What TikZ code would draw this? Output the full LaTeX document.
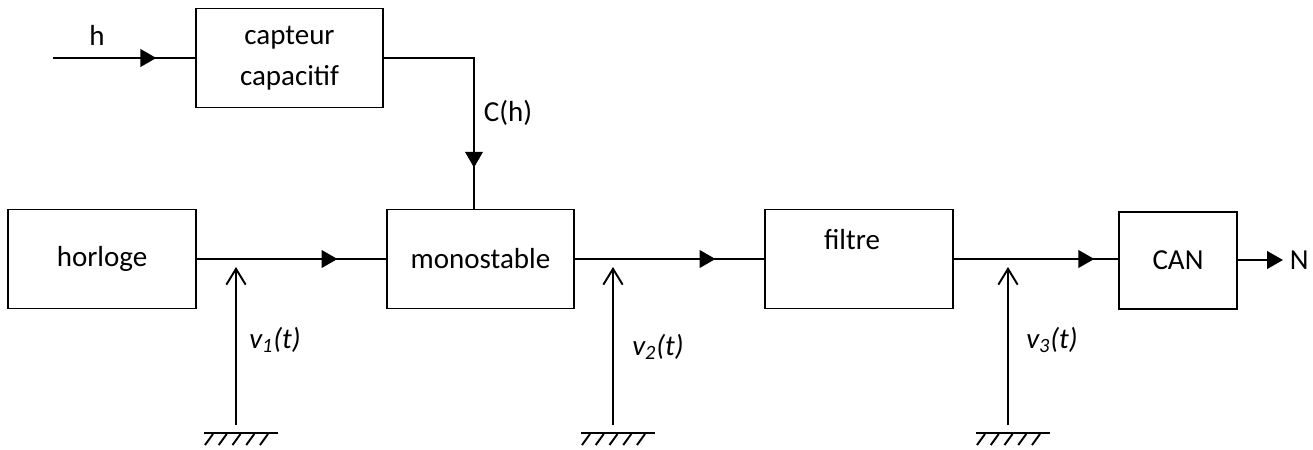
\documentclass[tikz,border=0pt]{standalone}
\usepackage{fontspec}
\setmainfont{Carlito}
\usetikzlibrary{arrows.meta, positioning, calc, decorations.markings}

%% ground symbol at a named coordinate
\newcommand{\masse}[1]{%
  \draw (#1) ++(-32,0) -- ++(74,0);
  \foreach \k in {0,...,4}
    \draw ($(#1)+(-23+13.75*\k,1)$) -- ++(-8,11);
}

\begin{document}
\begin{tikzpicture}[
  x=0.02cm, y=-0.02cm,
  line width=1.1pt,
  font=\fontsize{16.5}{23}\selectfont,
  bloc/.style   ={draw, align=center, inner sep=0pt,
                  minimum width=3.76cm, minimum height=1.98cm},
  flow/.style   ={postaction={decorate}, decoration={markings,
                  mark=at position #1 with {\arrow{Triangle[length=9pt, width=10pt]}}}},
  arr/.style    ={-{Triangle[length=9pt, width=10pt]}},
  varr/.style   ={-{Straight Barb[length=9pt, width=11pt]}},
  voltlbl/.style={font=\fontsize{16.5}{19}\selectfont\itshape},
]
\useasboundingbox (0,0) rectangle (1313,450);

%% ---- Blocks ----
\node[bloc, minimum width=3.74cm] (capteur) at (289.5,58) {capteur\\capacitif};
\node[bloc] (horloge) at (102,259)   {horloge};
\node[bloc, minimum width=3.74cm] (mono) at (480.5,259) {monostable};
\node[bloc] (filtre)  at (859,259) {};
\node (filtrelbl) at (852,240) {filtre};
\node[bloc, minimum width=2.36cm, minimum height=1.94cm] (can) at (1178,260.5) {CAN};

%% ---- Inputs / outputs ----
\coordinate (hin) at (53,58);
\node (hlbl) at (97,35) {h};
\node[anchor=west] (N) at (1283,260) {N};

%% ---- Connectors ----
\draw[flow=0.727] (hin) -- (capteur.west);
\draw[flow=0.83] (capteur.east) -| ($(mono.north)+(-6.5,0)$);
\node (chlbl) at (508,113) {C(h)};
\draw[flow=0.743] (horloge.east) -- (mono.west);
\draw[flow=0.743] (mono.east) -- (filtre.west);
\draw[flow=0.855] (filtre.east) -- (filtre.east -| can.west);
\draw[arr] (can.east |- N.west) -- (N.west);

%% ---- Voltages v1, v2, v3 ----
\coordinate (g1) at (236,433);  \coordinate (p1) at (236,267);
\coordinate (g2) at (613,433);  \coordinate (p2) at (613,267);
\coordinate (g3) at (1008,433); \coordinate (p3) at (1008,267);

\draw[varr] (g1) ++(0,-8) -- (p1);
\draw[varr] (g2) ++(0,-8) -- (p2);
\draw[varr] (g3) ++(0,-8) -- (p3);
\masse{g1}
\masse{g2}
\masse{g3}

\node[voltlbl] (lv1) at (275,340)  {v\textsubscript{1}(t)};
\node[voltlbl] (lv2) at (658,347)  {v\textsubscript{2}(t)};
\node[voltlbl] (lv3) at (1052,340) {v\textsubscript{3}(t)};

\end{tikzpicture}
\end{document}
